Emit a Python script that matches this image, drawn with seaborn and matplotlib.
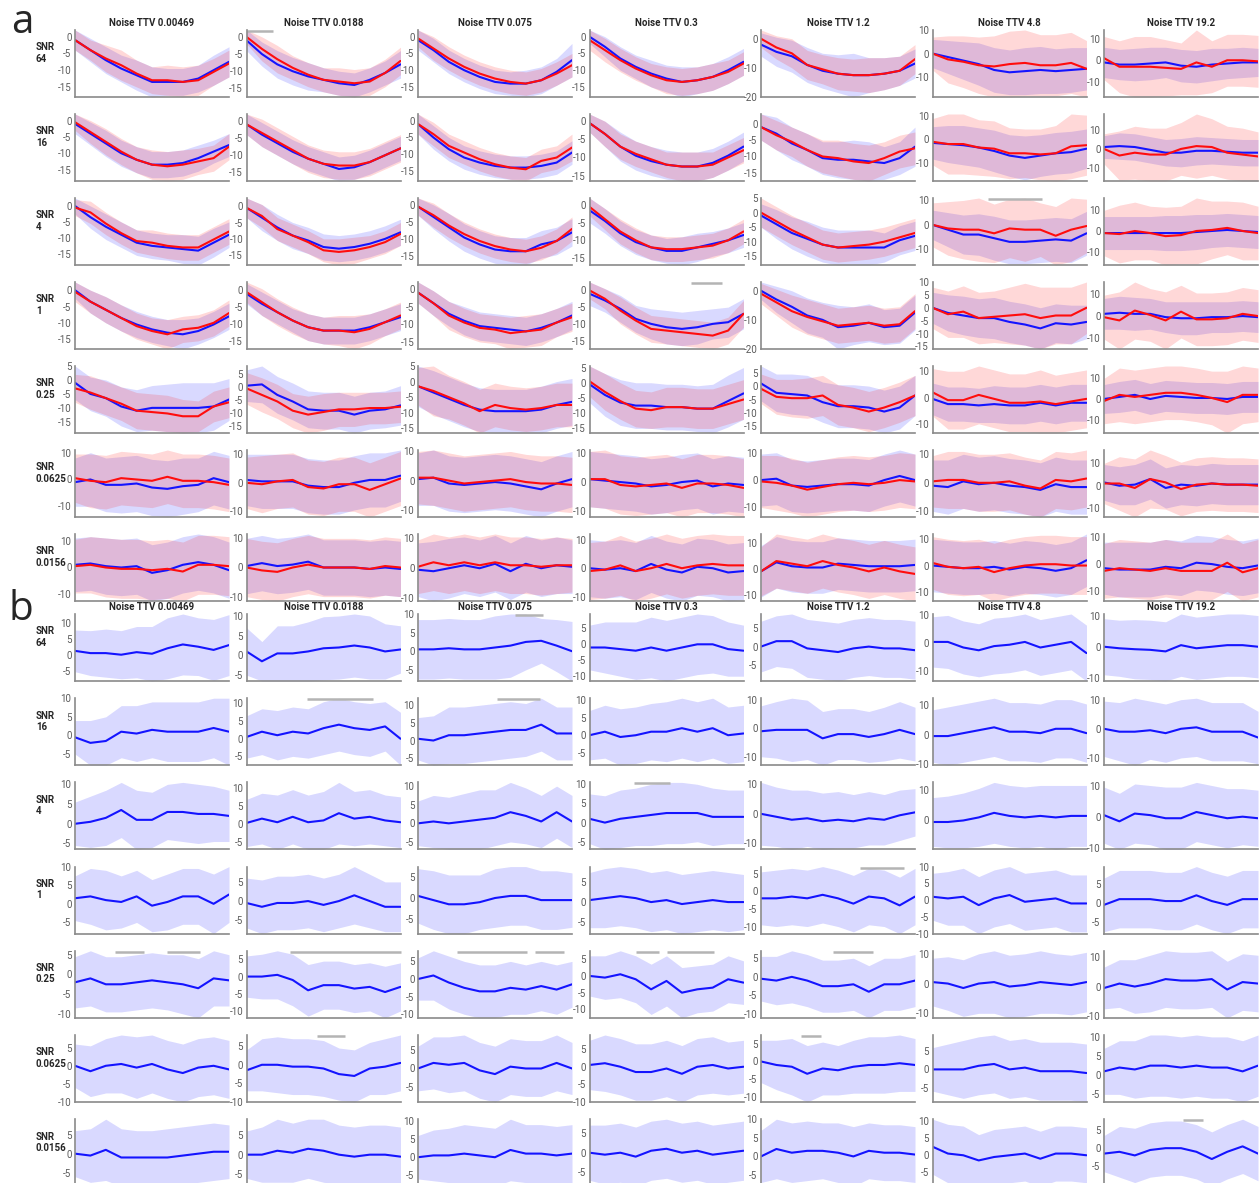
import matplotlib
matplotlib.use("Agg")
import matplotlib.pyplot as plt
import seaborn as sns
import numpy as np

sns.set_style("white")
plt.rcParams['font.family'] = ['Roboto', 'DejaVu Sans']
plt.rcParams['axes.unicode_minus'] = False

# x positions (normalised time) shared by every curve
X = [0.0, 0.1, 0.2, 0.3, 0.4, 0.5, 0.6, 0.7, 0.8, 0.9, 1.0]
NOISE_TTV = ["0.00469", "0.0188", "0.075", "0.3", "1.2", "4.8", "19.2"]
SNR = ["64", "16", "4", "1", "0.25", "0.0625", "0.0156"]

# ---- panel a : blue series (mean, sd) per SNR row / noise column ----
A_BLUE_MEAN = [
    [[-1,-4,-7,-9.5,-11.5,-13.5,-13.5,-13.5,-12.5,-10,-7.5], [-1,-5,-8,-10,-11.5,-12.5,-13.5,-14,-12.5,-10.5,-8],
     [-1,-4,-7.5,-10,-12,-13.5,-14,-14,-13,-10.5,-7], [0,-3,-6.5,-9,-11,-12.5,-13.5,-13,-12,-10,-7.5],
     [-2,-4.5,-6,-9,-11,-12,-12.5,-12.5,-12,-11,-8.5], [0,-1.5,-3,-4.5,-7,-8,-7.5,-7,-7.5,-7,-6.5],
     [-1,-2,-2,-1.5,-1,-2.5,-3,-2,-1.5,-1,-1]],
    [[-1,-4,-7,-10,-12,-13.5,-13.5,-13,-11.5,-9.5,-7.5], [-1,-4,-6.5,-9,-11,-12.5,-14,-13.5,-12,-10,-8],
     [-1,-5,-8.5,-11,-12.5,-13.5,-14,-14,-13.5,-12.5,-9.5], [-0.5,-3.5,-7,-9.5,-11,-12,-12.5,-12.5,-11.5,-9.5,-7],
     [-1,-3,-6,-8,-10.5,-11,-11,-11.5,-12,-10.5,-7], [-1.5,-2,-2.5,-3.5,-5,-7,-8,-7,-6,-5.5,-4],
     [1,1.5,1,-0.5,-2,-2,-1,-1,-1.5,-2,-2]],
    [[0,-3.5,-6.5,-9,-11.5,-12.5,-13,-13.5,-14,-11.5,-9], [-0.5,-3.5,-6.5,-9,-10.5,-12.5,-13,-12.5,-11.5,-10,-8],
     [-0.5,-3.5,-6.5,-9.5,-11.5,-13,-13.5,-13.5,-11.5,-10.5,-8], [-1.5,-4.5,-8,-10.5,-12,-13,-13,-12,-11,-10,-8.5],
     [-1,-4,-7,-9,-11,-12,-12,-12,-12,-9.5,-8], [0,-2,-4,-4,-5.5,-7,-7,-6.5,-6,-6.5,-3.5],
     [-1,-1,-1,-1,-1,-1,-0.5,0,0.5,0,-0.5]],
    [[0,-3.5,-6,-8.5,-10.5,-12,-13,-13.5,-12.5,-10.5,-8], [-1,-4,-6.5,-9,-11,-12,-12,-12,-11,-9.5,-8],
     [-1,-4,-7,-9,-10.5,-11,-11.5,-12,-11,-9.5,-7.5], [-1,-3,-5.5,-8.5,-10,-11,-11.5,-11,-10,-9.5,-7],
     [0,-3,-5.5,-8.5,-10,-12.5,-12,-11,-12.5,-12,-7.5], [0,-2,-3,-4,-4,-5.5,-6.5,-8,-6,-6.5,-5.5],
     [1,1.5,1,1,-0.5,-1,-1,-0.5,-0.5,0,-0.5]],
    [[-1,-5,-6.5,-9.5,-11,-10,-10,-10,-10,-9.5,-7], [0.5,1,-3,-5.5,-8.5,-9,-9,-10.5,-9,-8.5,-7],
     [-1.5,-3.5,-5.5,-7.5,-9,-9.5,-9.5,-9.5,-9,-7.5,-6.5], [-0.5,-4,-6.5,-7.5,-7.5,-8,-8,-8.5,-8.5,-6,-3.5],
     [1,-2.5,-3,-3.5,-6,-7.5,-7.5,-8,-9.5,-8,-3.5], [-0.5,-2.5,-2.5,-3,-2.5,-3,-3,-2,-3,-2,-2],
     [0,1,2,0,1.5,1,0.5,0.5,0,1,1]],
    [[-1,0,-2,-2,-1.5,-3,-3.5,-2.5,-2,0.5,-1], [1,0.5,0.5,0.5,-1,-1.5,-1.5,0,1,1,2.5],
     [0.5,1,-1,-1.5,-1,-0.5,-1,-2,-3,-1,0.5], [1,0.5,0,-0.5,-1.5,-1,0,0.5,-1.5,-0.5,-1],
     [0,0.5,-2,-2.5,-2,-1.5,-1.5,-2,0,1.5,0], [-1,-1.5,0.5,-0.5,0,-1,-1.5,-2.5,-0.5,-1.5,-1.5],
     [1.5,0,0.5,3,-1,0.5,0,1,0.5,0.5,0.5]],
    [[1,1.5,0.5,0,0.5,-2,-1,1,2,1,-1], [0.5,1.5,0.5,1,2,0,0,0,-0.5,0,-0.5],
     [-0.5,-1,0,1,0,1.5,-1,1.5,0,1,0.5], [0,-0.5,0,-1,1.5,-0.5,-1.5,0.5,0,-1.5,-1],
     [-1,2.5,1,0.5,0.5,2,1.5,1,1,1,1.5], [0,-0.5,-1,-1,-0.5,-1.5,-0.5,-1,-2,-1,2],
     [-1.5,-2,-2,-2,-1,-1.5,0.5,0,-1,-1.5,-0.5]],
]
A_BLUE_SD = [
    [[3,3.5,4,4,4.5,4.5,4,4,4,4.5,4.5], [3,3.5,4,4,4,3.5,3.5,3.5,3.5,3.5,4],
     [3,3.5,3.5,3.5,3.5,3.5,3.5,4,4,4,5], [2,3,3.5,3.5,4,4,4.5,4,4,4,4],
     [4,5,5.5,6,6,6.5,7.5,6,5.5,5,5], [6,7,8,9,9.5,9.5,10,10,9.5,9.5,9],
     [7,7,7.5,7.5,7,7.5,7.5,7.5,7,7,6.5]],
    [[3,3.5,4,4,4,4,4,4,4,3.5,3.5], [3,3.5,3.5,3.5,3.5,3.5,3.5,3.5,3.5,3.5,3.5],
     [3,3.5,3.5,3.5,3.5,3.5,3.5,3.5,3.5,3.5,3.5], [2.5,3.5,4,4,4,4,4,4,4,4,4],
     [4,5,5,5,5,5.5,6,6,5,5,6], [7,8,8.5,8.5,9,9,9.5,9,9,9,8.5],
     [6,7,7,7,7,7.5,7.5,7,7,7,7]],
    [[2.5,3.5,4,4,4,4,4,4.5,4.5,4.5,4], [3,4,4,4,4,4,4,4,4,4,4],
     [2.5,3.5,4,4,4,4,4,4,4,4,4], [3.5,3.5,3.5,3.5,3.5,3.5,4,4,3.5,3.5,3.5],
     [4,5,5.5,6,6,6,6,6,5,5,5], [6,7,8,8.5,9,9,9,9,9,9,9],
     [8,8,8,8,8.5,8.5,8.5,8,8,8,8]],
    [[2.5,3.5,4,4,4,4,4,4.5,4,4,4], [3,3.5,3.5,3.5,4,4,4,4,4,4,4],
     [3,3.5,3.5,4,4,4,4,4,4,4,4], [3.5,3.5,4,4,4.5,5,5,5,4.5,4.5,4.5],
     [3,4.5,5.5,6,6,7.5,6.5,6.5,6,6,6], [6,7,7.5,7.5,8,8,8,8,7.5,7.5,6.5],
     [7,7.5,7.5,7,7,7.5,7.5,7,7,7,7]],
    [[6,6,6.5,7,7.5,8,8.5,9,9,8.5,7.5], [6,7,7,7,7,7,7,7,7,7,7.5],
     [6.5,7,7,7,7,7,7,7,7.5,7.5,7.5], [6,7,7.5,7.5,7.5,7.5,7.5,7.5,8,8.5,8.5],
     [6.5,7,7.5,7.5,7.5,8,8,8,8,8,7.5], [6,6.5,6.5,6.5,7,7,7,7,7,7,7],
     [7,7.5,7.5,7.5,7.5,7.5,7.5,7.5,7.5,7.5,7.5]],
    [[9,10,10,10.5,10.5,10.5,10.5,10.5,10,10,10], [9,9.5,9.5,9.5,9.5,9.5,9.5,9.5,9.5,9.5,9],
     [9,9.5,9.5,9.5,9.5,9.5,9.5,9.5,9.5,9.5,9.5], [9.5,9.5,9.5,9.5,9.5,9.5,9.5,9.5,9.5,9.5,9.5],
     [9.5,9.5,9.5,9.5,9.5,9.5,9.5,9.5,9.5,9.5,9.5], [9,9.5,9.5,9.5,9.5,9.5,9.5,9.5,9.5,9.5,9.5],
     [8,8.5,9,9,9,9,9,9,9,9,9]],
    [[10,10,10.5,10.5,10.5,10.5,10.5,10.5,10.5,10.5,10.5], [9.5,9.5,9.5,9.5,9.5,9.5,9.5,9.5,9.5,9.5,9.5],
     [9,10,10,9.5,9.5,9.5,9.5,9.5,9.5,9.5,9], [10,10,10,10,10,10,10,10,10,10,10],
     [10,10,10,10,10,10,10,10,10,10,10], [10,10,10,10,10,10,10,10,10,10,10],
     [9.5,10,10,10,10,10,10,10,10,10,10]],
]

# ---- panel a : red series (mean, sd) ----
A_RED_MEAN = [
    [[-1,-4,-6.5,-8.5,-11,-13,-13,-13.5,-13,-10.5,-8], [0,-3.5,-6.5,-9,-11,-12.5,-13,-13.5,-13,-10.5,-7],
     [-0.5,-3.5,-6.5,-9,-11,-12.5,-13.5,-14,-13,-11,-8.5], [-1,-4,-7,-9.5,-11.5,-13,-13.5,-13,-12,-10.5,-8],
     [0,-3,-5,-9,-10.5,-12,-12.5,-12.5,-12,-11,-7], [0,-2.5,-3.5,-5,-5.5,-4.5,-4,-5,-5,-4,-6.5],
     [1,-3,-3,-3,-3.5,-4,-1,-3,0,0,-0.5]],
    [[-0.5,-3.5,-6.5,-9.5,-12,-13.5,-14,-13.5,-12.5,-11.5,-8], [-1,-3.5,-6,-8.5,-11,-12.5,-13,-13,-12,-10,-8],
     [-1,-4,-7.5,-9.5,-11.5,-13,-14,-14.5,-12,-11,-8], [-0.5,-3.5,-7,-9,-10.5,-12,-12.5,-12.5,-12,-10,-8],
     [-1,-3.5,-5.5,-8,-10,-10.5,-11.5,-12,-10.5,-8.5,-7.5], [-1,-2,-2,-3.5,-4,-6,-6,-6.5,-6,-3,-2.5],
     [0,-3.5,-2,-3,-3,0,1.5,1,-2,-3,-4]],
    [[-0.5,-2,-5.5,-8.5,-11,-11.5,-12.5,-13,-13,-10.5,-8], [-0.5,-3,-7,-9,-11,-13.5,-14,-13.5,-12.5,-11,-8.5],
     [-0.5,-3,-6,-8.5,-10.5,-12,-13,-13.5,-12.5,-10.5,-7], [-0.5,-4,-7.5,-10,-12,-12.5,-12.5,-12,-11.5,-10,-7.5],
     [0,-3,-6,-8.5,-11,-12,-11.5,-11,-10,-8.5,-7], [0,-1.5,-2,-2,-3.5,-1.5,-2,-2,-4.5,-2,-0.5],
     [-1,-1.5,0,-1,-2.5,-2,0,0.5,1.5,0,-1]],
    [[-0.5,-3.5,-6,-8.5,-11,-12.5,-13.5,-12,-11.5,-10,-7], [-0.5,-3.5,-6.5,-9,-11,-12,-12,-12.5,-11.5,-9.5,-7.5],
     [-1,-4,-7.5,-9.5,-11,-11.5,-12.5,-12,-11.5,-9.5,-8], [0,-2.5,-6,-9,-11.5,-12,-12.5,-13,-13.5,-12,-7],
     [-1,-4,-7,-9,-10.5,-12,-11.5,-11,-12,-11.5,-7], [0,-2.5,-1.5,-4,-3.5,-3,-2.5,-4,-3,-3,0],
     [-0.5,-2,2.5,0.5,-2,2,-1.5,-1.5,-1,1,0]],
    [[-3,-4.5,-6.5,-8.5,-11,-11.5,-12,-13,-13,-9.5,-8], [-0.5,-3,-5.5,-9,-10.5,-9.5,-8.5,-8.5,-8,-8,-7.5],
     [-1.5,-3,-5,-7,-9.5,-7.5,-8.5,-9,-8.5,-7.5,-7.5], [0.5,-3,-6,-8.5,-9,-8,-8,-8.5,-8.5,-7,-5.5],
     [-1,-4,-4.5,-4.5,-3.5,-7,-8,-9.5,-8,-6,-3.5], [2,-1,-1,1,-0.5,-2,-2,-1.5,-2.5,-1.5,-0.5],
     [-1,2,1,2,3,3,2,0.5,-1.5,2,2]],
    [[0.5,-0.5,-1,0.5,0,-0.5,1,-0.5,-0.5,-1,-2], [0,-0.5,0.5,1,-1.5,-2,-0.5,-0.5,-2.5,-0.5,1.5],
     [1,1,0,-1,-0.5,0,0.5,-0.5,-1,-1,-1.5], [1,1,-1,-1.5,-1,-0.5,-2,-0.5,-0.5,-1,-2],
     [-0.5,-1,-2,-3.5,-2.5,-1.5,-1,-1.5,-1,0,-0.5], [0.5,1,1,0,0,0.5,-1,-2,1,0.5,1.5],
     [1,1,-1,3,1.5,-1.5,0.5,1,0.5,0.5,0]],
    [[0.5,1,0,-0.5,-0.5,-1,-0.5,-1.5,1,1,0.5], [0,-1,-1.5,0,1,0,0,0,-0.5,0.5,0],
     [0.5,2,1,2,1,2,1,1,0.5,1,1], [-1,-0.5,1,-1,0,1.5,0,1,1.5,1,1],
     [-1,3,2,1,3,1.5,0.5,-1,0.5,-1,-2], [1,-0.5,-1,-0.5,-2.5,-1,0,0.5,0.5,0,0],
     [-2.5,-1.5,-2,-2.5,-1.5,-2.5,-2.5,-2.5,0.5,-3,-1.5]],
]
A_RED_SD = [
    [[3,3,4,4.5,4,4,4.5,4.5,4.5,4,4], [2,3.5,4,3.5,3.5,3.5,4,4,4,4,4],
     [2.5,3.5,3.5,3.5,3.5,3.5,3.5,3.5,3.5,3.5,3.5], [3,3.5,3.5,3.5,3.5,4,4,4,4,3.5,3.5],
     [3,4,5,5,5,5.5,5.5,6,5.5,5,5], [7,10,11,12,13,14,14,13,13,13,12],
     [10,12,14,14,13,12,15,12,12,12,12]],
    [[2.5,3.5,4,4,4,4.5,4.5,4.5,4,4,4], [3,4,4,4,4,4,4,4,4,4,4],
     [3,3.5,3.5,3.5,3.5,3.5,3.5,3.5,3.5,3.5,4], [2.5,3.5,3.5,3.5,3.5,3.5,4,4,3.5,3.5,3.5],
     [4,4.5,4.5,5,5,5.5,5.5,5.5,5,5,5], [10,13,13,12,12,11,10.5,11,12,14,13],
     [8,13,14,14,14,14,17,15,14,14,13]],
    [[2.5,3.5,3.5,3.5,3.5,4,4,4,4,4,4], [3,3.5,3.5,3.5,3.5,3.5,4,4,3.5,3.5,3.5],
     [2.5,3.5,3.5,3.5,3.5,3.5,3.5,3.5,3.5,3.5,3.5], [2.5,3,3.5,3.5,3.5,3.5,3.5,3.5,3.5,3.5,3.5],
     [5,5,5,5,5,5,5,5,5,5,5], [9,11,12,13,12,12,13,11,12,13,11],
     [11,14,14,13,14,14,16,14,13,14,13]],
    [[3,3.5,4,4,4,4,4.5,4,4,4,4], [3,4,4,4,4,4,4.5,5,4.5,4,4],
     [3,3.5,4,4,4,4,4.5,4.5,4.5,4,4], [2.5,3,4,4,4,4,4,4,4,4,4],
     [3.5,4.5,5.5,6,6,6,6,6,6,6,6], [8,9,10,10,10,11,12,12,11,11,10],
     [10,13,13,12,13,12,12,12,12,12,12]],
    [[5,6,6,6,6.5,6.5,6.5,6,5.5,5.5,5.5], [6,6.5,6.5,6.5,7,7,6.5,6.5,6,6,6],
     [6,8,7,7,7,7,7,7,7,7,7], [5,6,6,6,6,6.5,6.5,6.5,6.5,6.5,6.5],
     [5.5,6.5,7,7.5,7.5,7.5,7.5,7.5,7.5,7.5,7.5], [9,11,11,11,11,11,11,12,11,11,11],
     [11,13,13,13,13,13,13,13,15,14,13]],
    [[9,10,10,10,10,10,10,10,10,10,10], [9,10,9.5,9.5,9.5,9.5,9.5,9.5,9.5,9.5,9.5],
     [9,9.5,9.5,9.5,9.5,9.5,9.5,9.5,9.5,9.5,9.5], [9.5,10,10,10,10,10,10,10,10,10,10],
     [9.5,10,10,10,10,10,10,10,10,10,10], [9,10,10,10,10,10,10,10,10,10,10],
     [9,12,13,13,12,12,12,12,12,12,12]],
    [[10,10.5,11,11,11,11,11,11,11,11,11], [10,10,10,10,10,10,10,10,10,10,10],
     [9,9.5,9.5,9.5,9.5,9.5,9.5,9.5,9.5,9.5,9], [10,10,10.5,10.5,10.5,10.5,10.5,10.5,10.5,10.5,10.5],
     [9.5,10.5,10.5,10.5,10.5,10.5,10.5,10.5,10.5,10.5,10.5], [10,10.5,10.5,10.5,11,11,11,11,11,11,11],
     [10,10.5,10.5,10.5,10.5,10.5,10.5,10.5,10.5,10.5,10.5]],
]

# ---- panel b : single blue series (mean, sd) ----
B_MEAN = [
    [[1.2,0.5,0.5,0,0.8,0.3,2,3.2,2.5,1.5,3], [1,-1.5,0.5,0.5,1,1.8,2,2.5,2,1,1.5],
     [0.5,0.5,0.8,0.5,0.5,1,1.5,2.5,2.8,1.5,0], [-1,-1,-1.5,-2,-1,-2,-1,0,0,-1.5,-2],
     [0,1.5,1.5,-0.5,-1,-1.5,-0.5,0,-0.5,-0.5,-1], [0.5,0.5,-1.5,-2.5,-1,-0.5,0.5,-1.5,-0.5,0.5,-3.5],
     [0,-0.5,-0.8,-1,-1.5,0.5,-0.5,0,0.5,0.5,0]],
    [[-0.5,-2,-1.5,1,0.5,1.5,1,1,1,2,1], [0.5,2,1,2,1.5,3,4,3,2.5,3.5,0],
     [0.5,0,1.5,1.5,2,2.5,3,3,4.5,2,2], [0,1,-0.5,0,1,1,2,1,2,0,0.5],
     [-1,-0.5,-0.5,-0.5,-3.5,-2,-2,-3,-2,-0.5,-2], [-0.5,-0.5,0.5,1.5,2.5,1,1,0.5,2,2,0.5],
     [0,-1,-1,-0.5,-1.5,0,0.5,-1,-1,-1,-3]],
    [[0,0.5,1.5,3.5,1,1,3,3,2.5,2.5,2], [0.3,1.5,0.5,2,0.5,1,3,1.5,2,1,0.5],
     [0,0.5,0,0.5,1,1.5,3,2,0.5,3,0.5], [1,0,1,1.5,2,2.5,2.5,2.5,1.5,1.5,1.5],
     [0,-1,-2,-1.5,-2.5,-2,-2.5,-1.5,-2,-0.5,0.5], [-0.5,-0.5,0,1,2.5,1.5,1,1.5,1,1.5,1.5],
     [0.5,-1.5,1,0.5,-0.5,-0.5,1.5,0.5,-0.5,0,-0.5]],
    [[1.5,2,1,0.5,2,-0.5,0.5,2,2,0,2.5], [-0.5,-1.5,-0.5,-0.5,0,-1,0,1.5,0,-1.5,-1.5],
     [0.5,-0.5,-1.5,-1.5,-1,0,0.5,0.5,-0.5,-0.5,-0.5], [0.5,1,1.5,1,0,0.5,-0.5,0,0.5,0,0],
     [-2,-2,-1.5,-2,-1,-2,-3.5,-1.5,-2,-4,-1.5], [1,0.5,1,-1.5,0.5,1.5,-0.5,0,0.5,-1,-1],
     [-0.5,1,1,1,0.5,0.5,2,0.5,-0.5,1,1]],
    [[-2,-1,-2.5,-2.5,-2,-1.5,-2,-2.5,-3.5,-1,-1.5], [0,0,0.5,-1,-4,-2.5,-2.5,-3.5,-3,-4.5,-3],
     [0,1,-1,-2.5,-3.5,-3.5,-2.5,-3,-2,-3,-1.5], [0,-0.5,0.5,-1,-4,-1.5,-5,-4,-3.5,-1,-2],
     [-0.5,-1,0,-1,-2.5,-2.5,-2,-4,-2,-2,-1], [0.5,0,-1.5,0,0.5,-1,-0.5,0.5,0,-0.5,0.5],
     [-0.5,1,0,1,2.5,2,2,2.5,-1,1.5,1]],
    [[0,-1.5,0,0.5,-0.5,0.5,-1,-2,-0.5,0,-1], [-1.5,0,0,-0.5,-0.5,-1,-2.5,-3,-1,-0.5,0.5],
     [0,1.5,1,1.5,-0.5,-1.5,0.5,0,0,1.5,0], [0.5,1,0,-1.5,-1.5,-0.5,-2,0,0.5,-0.5,0],
     [0,-1,-1.5,-3.5,-2,-2.5,-1.5,-1,-1,-0.5,-1], [0,0,0,1,1.5,0,0.5,-0.5,-0.5,-0.5,-1],
     [1,2,1.5,2.5,2.5,2,2.5,2,2,1,2.5]],
    [[0,-0.5,1,-1,-1,-1,-1,-0.5,0,0.5,0.5], [0,0,1,0.5,1.5,1,0,-0.5,0,0,-0.5],
     [0,0.5,0.5,1,0.5,0,2,1,1,0.5,1], [0,-0.5,0,-1,0.5,1,0,0.5,-0.5,0,0.5],
     [0,2,1,1.5,1.5,1,0,1.5,1,1,0.5], [2.5,0.5,0,-1.5,-0.5,0,0.5,-1,0.5,0.5,0],
     [-1.5,-1,-2,-0.5,0,0,-1,-3,-1,0.5,-1.5]],
]
B_SD = [
    [[6.5,7,7.5,7.5,8,8.5,9.5,9.5,9,9.5,9.5], [6,5,7,7,7.5,8,8,8,8,7,6],
     [8,8,8,8,8,8.5,8.5,7.5,6,7,8], [7,8,8.5,9,9.5,9.5,9.5,9.5,9,8.5,8],
     [7,7,7.5,8,8,8,8,8,8,8,8], [9,9.5,9.5,9.5,10,10,10,10,10,10,10],
     [9,9,9.5,9.5,9.5,10,10,10,10,10,10]],
    [[4.5,6,6.5,7,7.5,7.5,8,8,8,8,9], [6,6.5,7,7,7,7.5,7.5,7.5,7.5,7,7.5],
     [6,7,8,8,8,8,8,7.5,7.5,7.5,7.5], [7,7.5,8,8,8,8.5,8.5,8.5,8.5,8,8],
     [9,10,11.2,10.5,9.5,9,9,9,9.5,10,9.5], [9,10,10,10,10,10,10,10,10,10,10],
     [9.5,10,11.5,10,10,10,10,10,10,10,9]],
    [[5.5,6.5,7,7,7.5,7,7,7.5,7.5,7,6.5], [6.5,7,7.5,7.5,7.5,8,8.5,7.5,7.5,7,7],
     [6,7,7,7.5,8,7.5,8,7.5,7,7,7], [6.5,7,7.5,7.5,8,8,8,7.5,7.5,7,7],
     [10.6,10,10,9.5,9.5,9.5,9,9,8.5,8.5,8], [8,8.5,9,9.5,10,10,10,10,10.5,10,10],
     [9,9,9.5,9.5,10,10,9.5,9.5,9.5,9,9]],
    [[6,7.5,8,7,7,7,7.5,7.5,7.5,8,7.5], [6.5,7,7,7,7,7,7,7.5,7,6.5,6.5],
     [6.5,7,7,7,6.5,7,7,7,7,7,6.5], [7,7.5,7.5,7.5,7.5,7.5,7.5,7.5,7.5,7.5,7],
     [7.5,8,8,8,8,8,8,8,8,8,8], [7,8,8.5,8.5,8.5,8.5,8.5,8.5,8.5,8.5,8.5],
     [7,7.5,7.5,7.5,7.5,7.5,7.5,7.5,7.5,7.5,7.5]],
    [[6.5,7,7,7,7,7,7,7.5,7.5,7,6.5], [6,6.5,7,7.5,7.5,7,7,7,7,7.5,7],
     [6,7,7.5,7.5,7.5,7.5,7.5,7,7,7,6.5], [6,6.5,7,7,7.5,7.5,7.5,7,7,7,6.5],
     [6,6.5,7,7,7,7,7,7,7,7,7], [8,9,9.5,10,10.5,10.5,10.5,10.5,10,10,10],
     [7,8,9,9.5,9.5,9.5,9.5,9.5,9.5,9.5,9.5]],
    [[6,7,7.5,8,8.5,8,8,8,8,8,8], [5.5,7,7.5,7.5,7.5,7.5,7,7,7,7.5,7.5],
     [6,7,7.5,7.5,7.5,7.5,7.5,7.5,7.5,7.5,7], [7,8,8,8,8,8,8,8,8,7.5,7.5],
     [6,7,8,8,7.5,7,7.5,8,8,8,7.5], [6,7,8,8,8,8,8,8,8,8,8],
     [6,7,7.5,8,8,8,8,8,8,8,8]],
    [[6,7,8,7.5,7,7,7.5,7.5,7.5,7.5,7], [6,7,8,7.5,7.5,8,7.5,7.5,7.5,7.5,7.5],
     [6,7,7.5,8,8,8,8.5,8,8,8,8], [7,7.5,7.5,7.5,7.5,7.5,7.5,7.5,7.5,7.5,7.5],
     [7,8,8,8,7.5,8,8,7.5,7.5,7.5,7.5], [8,8.5,8.5,7.5,8,8,8,8,8,8,8],
     [5,7,7.5,7.5,7.5,7.5,7.5,7.5,7.5,7.5,7.5]],
]

# grey significance bars: (row, col, x start, x end)
SIG_A = [(0, 1, 0.0, 0.17), (2, 5, 0.36, 0.71), (3, 3, 0.66, 0.86)]
SIG_B = [(0, 2, 0.63, 0.81), (1, 1, 0.39, 0.82), (1, 2, 0.51, 0.79), (2, 3, 0.29, 0.52),
         (3, 4, 0.64, 0.93), (4, 0, 0.26, 0.45), (4, 0, 0.60, 0.81), (4, 1, 0.28, 1.0),
         (4, 2, 0.25, 0.71), (4, 2, 0.76, 0.945), (4, 3, 0.30, 0.45), (4, 3, 0.50, 0.81),
         (4, 4, 0.47, 0.73), (5, 1, 0.46, 0.64), (5, 4, 0.26, 0.39), (6, 6, 0.51, 0.64)]

# y tick spacing used on each panel (as in the original)
A_YSTEP = [[5, 5, 5, 5, 10, 10, 10], [5, 5, 5, 5, 5, 10, 10], [5, 5, 5, 5, 5, 10, 10],
           [5, 5, 5, 5, 10, 5, 10], [5, 5, 5, 5, 5, 10, 10], [10] * 7, [10] * 7]
B_YSTEP = [[5, 5, 5, 5, 5, 10, 10], [5, 5, 5, 5, 10, 10, 10], [5, 5, 5, 5, 10, 10, 10],
           [5] * 7, [5, 5, 5, 5, 5, 10, 10], [5] * 7, [5] * 7]

W, H = 1260, 1183
fig = plt.figure(figsize=(W / 100, H / 100), dpi=100)

BLUE = (0.08, 0.08, 1.0)
RED = (1.0, 0.05, 0.05)
GREY = '#8a8a8a'
COL_LEFT = [75 + 171.5 * i for i in range(7)]
AX_W, AX_H = 154, 67


def make_ax(left, top):
    ax = fig.add_axes([left / W, 1 - (top + AX_H) / H, AX_W / W, AX_H / H])
    sns.despine(ax=ax)
    for s in ('left', 'bottom'):
        ax.spines[s].set_color(GREY)
        ax.spines[s].set_linewidth(1.2)
    ax.tick_params(direction='in', length=2.5, width=0.8, color=GREY,
                   labelsize=7, labelcolor='#5a5a5a', pad=2.5)
    ax.tick_params(axis='y', length=0)
    ax.set_xticks([0, 0.25, 0.5, 0.75, 1.0])
    ax.set_xticklabels([])
    ax.set_xlim(0, 1)
    return ax


def draw(ax, series, step, top):
    lo_all, hi_all = [], []
    for mean, sd, color in series:
        lo = [m - s for m, s in zip(mean, sd)]
        hi = [m + s for m, s in zip(mean, sd)]
        ax.fill_between(X, lo, hi, color=color, alpha=0.16, lw=0)
        lo_all += lo
        hi_all += hi
    for mean, sd, color in series:
        sns.lineplot(x=X, y=mean, color=color, lw=1.5, ax=ax, legend=False)
    ymin, ymax = min(lo_all), max(hi_all)
    ticks = [int(round(t)) for t in np.arange(np.ceil(ymin / step) * step, ymax + 1e-9, step)]
    # drop labels that would fall below the bottom edge of the figure
    ticks = [t for t in ticks if top + AX_H * (ymax - t) / (ymax - ymin) < H - 5]
    ax.set_yticks(ticks)
    ax.set_yticklabels([str(t) for t in ticks])
    ax.set_ylim(ymin, ymax)
    ax.set_ylabel('')


def sig_bars(ax, x0, x1):
    ax.plot([x0, x1], [0.985, 0.985], transform=ax.get_xaxis_transform(),
            color='#b4b4b4', lw=1.8, clip_on=False, solid_capstyle='butt')


def row_label(top, snr):
    fig.text(36 / W, 1 - (top + 23) / H, f"SNR\n{snr}", fontsize=7,
             fontweight='bold', ha='left', va='center', linespacing=1.15)


# panel a
for r in range(7):
    top = 30 + 84 * r
    row_label(top, SNR[r])
    for c in range(7):
        ax = make_ax(COL_LEFT[c], top)
        draw(ax, [(A_BLUE_MEAN[r][c], A_BLUE_SD[r][c], BLUE),
                  (A_RED_MEAN[r][c], A_RED_SD[r][c], RED)], A_YSTEP[r][c], top)
        if r == 0:
            ax.set_title(f"Noise TTV {NOISE_TTV[c]}", fontsize=7, fontweight='bold', pad=3)
        for (sr, sc, x0, x1) in SIG_A:
            if sr == r and sc == c:
                sig_bars(ax, x0, x1)

# panel b
for r in range(7):
    top = 614 + 84.2 * r
    row_label(top, SNR[r])
    for c in range(7):
        ax = make_ax(COL_LEFT[c], top)
        draw(ax, [(B_MEAN[r][c], B_SD[r][c], BLUE)], B_YSTEP[r][c], top)
        if r == 0:
            ax.set_title(f"Noise TTV {NOISE_TTV[c]}", fontsize=7, fontweight='bold', pad=3)
        for (sr, sc, x0, x1) in SIG_B:
            if sr == r and sc == c:
                sig_bars(ax, x0, x1)

fig.text(11 / W, 1 - 33 / H, "a", fontsize=29, family=['Open Sans', 'DejaVu Sans'], va='baseline')
fig.text(9 / W, 1 - 620 / H, "b", fontsize=29, family=['Open Sans', 'DejaVu Sans'], va='baseline')

fig.savefig("out.png", dpi=100)
